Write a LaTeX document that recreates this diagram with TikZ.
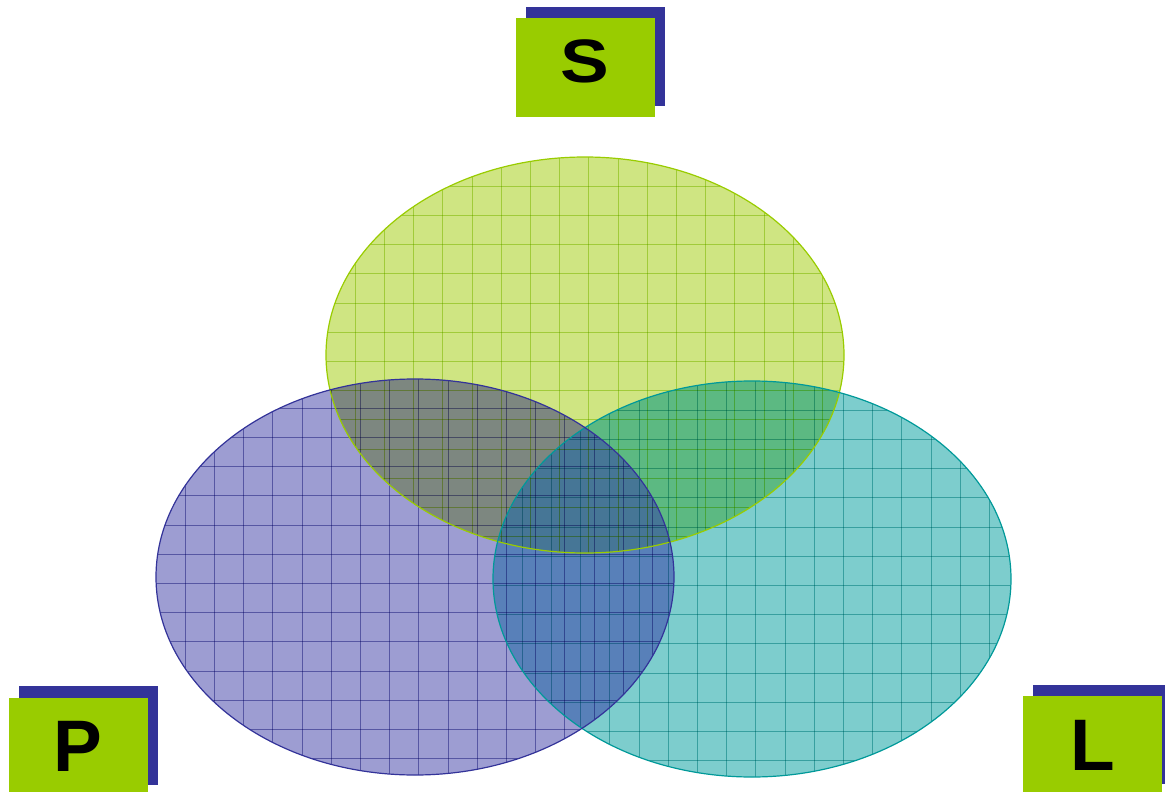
\documentclass[tikz,border=0pt]{standalone}
\usepackage{fontspec}
\setmainfont{Liberation Sans}
\definecolor{cS}{RGB}{207,229,130}
\definecolor{cP}{RGB}{157,157,210}
\definecolor{cL}{RGB}{125,205,205}
\definecolor{cSP}{RGB}{125,135,128}
\definecolor{cSL}{RGB}{92,185,130}
\definecolor{cPL}{RGB}{88,128,185}
\definecolor{cSPL}{RGB}{70,118,150}
\definecolor{lS}{RGB}{153,204,0}
\definecolor{lP}{RGB}{51,51,153}
\definecolor{lL}{RGB}{0,153,153}
\definecolor{boxgreen}{RGB}{153,204,0}
\definecolor{boxblue}{RGB}{51,51,153}
\tikzset{
  gridS/.style={draw=lS, line width=1pt, opacity=0.55},
  gridP/.style={draw=lP, line width=1pt, opacity=0.55},
  gridL/.style={draw=lL, line width=1pt, opacity=0.55},
  greenbox/.style={fill=boxgreen, minimum width=139pt, minimum height=99pt, inner sep=0pt, outer sep=0pt},
  shadowbox/.style={fill=boxblue, minimum width=139pt, minimum height=99pt, inner sep=0pt, outer sep=0pt},
  letter/.style={anchor=base, inner sep=0pt, font=\fontsize{73}{73}\selectfont\bfseries, text=black}
}
\def\Spath{(585,355) ellipse [x radius=259, y radius=198]}
\def\Ppath{(415,577) ellipse [x radius=259, y radius=198]}
\def\Lpath{(752,579) ellipse [x radius=259, y radius=198]}
\begin{document}
\begin{tikzpicture}[x=1pt,y=-1pt]
\useasboundingbox (0,0) rectangle (1165,792);
% region fills
\fill[cS] \Spath;
\fill[cP] \Ppath;
\fill[cL] \Lpath;
\begin{scope}\clip \Spath; \fill[cSP] \Ppath; \end{scope}
\begin{scope}\clip \Spath; \fill[cSL] \Lpath; \end{scope}
\begin{scope}\clip \Ppath; \fill[cPL] \Lpath; \end{scope}
\begin{scope}\clip \Spath; \clip \Ppath; \fill[cSPL] \Lpath; \end{scope}
% grids
\begin{scope}[blend mode=multiply]
\begin{scope}\clip \Spath;
  \foreach \k in {1,...,17} \draw[gridS] ({326+29.2*\k},157) -- ({326+29.2*\k},553);
  \foreach \k in {1,...,13} \draw[gridS] (326,{157+29.2*\k}) -- (844,{157+29.2*\k});
\end{scope}
\begin{scope}\clip \Ppath;
  \foreach \k in {1,...,17} \draw[gridP] ({156+29.2*\k},379) -- ({156+29.2*\k},775);
  \foreach \k in {1,...,13} \draw[gridP] (156,{379+29.2*\k}) -- (674,{379+29.2*\k});
\end{scope}
\begin{scope}\clip \Lpath;
  \foreach \k in {1,...,17} \draw[gridL] ({493+29.2*\k},381) -- ({493+29.2*\k},777);
  \foreach \k in {1,...,13} \draw[gridL] (493,{381+29.2*\k}) -- (1011,{381+29.2*\k});
\end{scope}
\end{scope}
% outlines
\draw[lS, line width=1.2pt] \Spath;
\draw[lL, line width=1.2pt] \Lpath;
\draw[lP, line width=1.2pt] \Ppath;
% labels
\node[shadowbox] (Sshadow) at (595.5,56.35) {};
\node[greenbox] (Sbox) at (585.5,67.35) {};
\node[letter] (Stext) at (585.3,83) {\scalebox{1}[0.84]{S}};
\node[shadowbox] (Pshadow) at (88.35,735.85) {};
\node[greenbox] (Pbox) at (78,747.2) {};
\node[letter] (Ptext) at (78.2,771.5) {P};
\node[shadowbox] (Lshadow) at (1102.5,734.5) {};
\node[greenbox] (Lbox) at (1092.5,745.2) {};
\node[letter] (Ltext) at (1092.5,770) {L};
\end{tikzpicture}
\end{document}
